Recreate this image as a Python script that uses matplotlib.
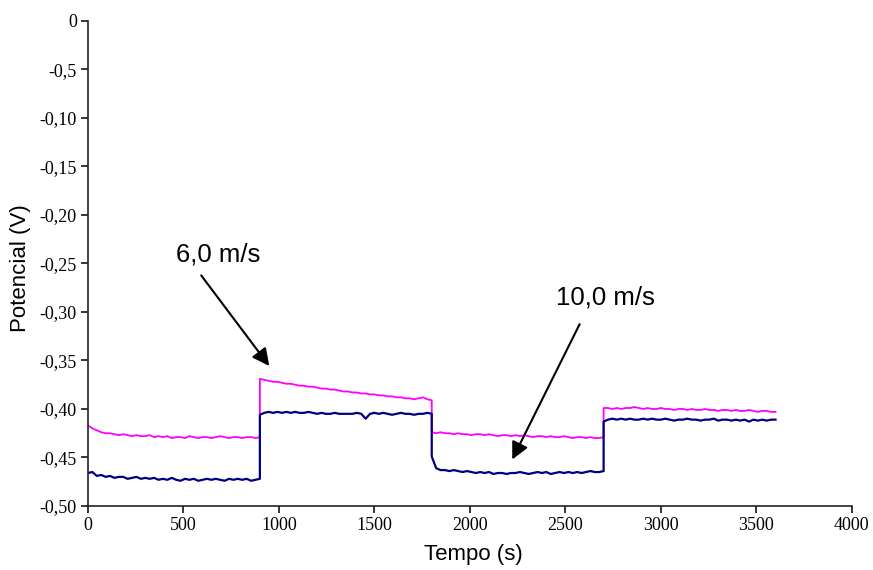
import numpy as np
import matplotlib.pyplot as plt

# limites dos patamares de velocidade (s)
seg_edges = [0, 900, 1800, 2700, 3600]

# potencial (V) - curva magenta, um bloco por patamar
pot_rosa = [
    [-0.417, -0.420, -0.422, -0.424, -0.425, -0.425, -0.426, -0.427, -0.426, -0.427,
     -0.428, -0.427, -0.428, -0.428, -0.427, -0.429, -0.428, -0.429, -0.428, -0.430,
     -0.429, -0.429, -0.430, -0.428, -0.429, -0.430, -0.429, -0.429, -0.430, -0.429,
     -0.428, -0.429, -0.430, -0.429, -0.429, -0.430, -0.429, -0.429, -0.430, -0.429],
    [-0.369, -0.370, -0.371, -0.372, -0.372, -0.373, -0.374, -0.374, -0.375, -0.376,
     -0.376, -0.377, -0.377, -0.378, -0.379, -0.379, -0.380, -0.380, -0.381, -0.382,
     -0.382, -0.383, -0.383, -0.384, -0.384, -0.385, -0.385, -0.386, -0.386, -0.387,
     -0.387, -0.388, -0.388, -0.389, -0.389, -0.390, -0.389, -0.388, -0.390, -0.391],
    [-0.424, -0.425, -0.424, -0.425, -0.425, -0.426, -0.425, -0.426, -0.426, -0.427,
     -0.426, -0.426, -0.427, -0.426, -0.427, -0.428, -0.427, -0.427, -0.428, -0.427,
     -0.428, -0.427, -0.428, -0.429, -0.428, -0.428, -0.429, -0.428, -0.429, -0.429,
     -0.428, -0.429, -0.430, -0.429, -0.429, -0.430, -0.429, -0.430, -0.430, -0.429],
    [-0.399, -0.399, -0.400, -0.399, -0.400, -0.399, -0.399, -0.398, -0.399, -0.400,
     -0.399, -0.400, -0.400, -0.399, -0.400, -0.400, -0.401, -0.400, -0.400, -0.401,
     -0.400, -0.401, -0.401, -0.400, -0.401, -0.401, -0.402, -0.401, -0.401, -0.402,
     -0.401, -0.402, -0.402, -0.401, -0.402, -0.403, -0.402, -0.402, -0.403, -0.403],
]

# potencial (V) - curva azul marinho
pot_azul = [
    [-0.466, -0.465, -0.469, -0.468, -0.470, -0.469, -0.471, -0.470, -0.470, -0.472,
     -0.471, -0.470, -0.472, -0.471, -0.472, -0.471, -0.473, -0.472, -0.473, -0.471,
     -0.473, -0.474, -0.472, -0.473, -0.472, -0.474, -0.473, -0.472, -0.473, -0.472,
     -0.473, -0.474, -0.472, -0.473, -0.472, -0.473, -0.472, -0.474, -0.473, -0.472],
    [-0.406, -0.404, -0.403, -0.404, -0.403, -0.404, -0.403, -0.404, -0.403, -0.404,
     -0.404, -0.403, -0.404, -0.405, -0.404, -0.405, -0.405, -0.404, -0.405, -0.405,
     -0.405, -0.405, -0.404, -0.405, -0.410, -0.405, -0.404, -0.405, -0.404, -0.405,
     -0.406, -0.405, -0.404, -0.405, -0.405, -0.406, -0.405, -0.405, -0.404, -0.405],
    [-0.449, -0.461, -0.463, -0.463, -0.464, -0.463, -0.464, -0.465, -0.464, -0.465,
     -0.466, -0.465, -0.466, -0.465, -0.467, -0.466, -0.466, -0.467, -0.466, -0.466,
     -0.465, -0.466, -0.467, -0.466, -0.465, -0.466, -0.465, -0.467, -0.466, -0.465,
     -0.466, -0.465, -0.466, -0.465, -0.466, -0.465, -0.464, -0.465, -0.465, -0.464],
    [-0.413, -0.411, -0.410, -0.411, -0.410, -0.411, -0.410, -0.411, -0.411, -0.410,
     -0.411, -0.410, -0.411, -0.411, -0.410, -0.411, -0.412, -0.411, -0.411, -0.410,
     -0.411, -0.411, -0.412, -0.411, -0.411, -0.410, -0.412, -0.411, -0.411, -0.412,
     -0.411, -0.412, -0.411, -0.413, -0.411, -0.412, -0.411, -0.412, -0.411, -0.411],
]

yticks = [0, -0.05, -0.10, -0.15, -0.20, -0.25, -0.30, -0.35, -0.40, -0.45, -0.50]
ytick_labels = ['0', '-0,5', '-0,10', '-0,15', '-0,20', '-0,25', '-0,30',
                '-0,35', '-0,40', '-0,45', '-0,50']
xticks = [0, 500, 1000, 1500, 2000, 2500, 3000, 3500, 4000]


def junta(blocos):
    t, v = [], []
    for i, b in enumerate(blocos):
        t.append(np.linspace(seg_edges[i], seg_edges[i + 1], len(b)))
        v.append(np.array(b))
    return np.concatenate(t), np.concatenate(v)


t_rosa, v_rosa = junta(pot_rosa)
t_azul, v_azul = junta(pot_azul)

fig = plt.figure(figsize=(8.73, 5.70), dpi=100)
ax = fig.add_axes([0.1008, 0.1123, 0.875, 0.851])

ax.plot(t_rosa, v_rosa, color='#FF00FF', lw=1.3)
ax.plot(t_azul, v_azul, color='#000080', lw=1.6)

ax.set_xlim(0, 4000)
ax.set_ylim(-0.50, 0)
ax.set_xticks(xticks)
ax.set_yticks(yticks)
ax.set_yticklabels(ytick_labels)
for lb in ax.get_xticklabels() + ax.get_yticklabels():
    lb.set_family('Liberation Serif')
    lb.set_fontsize(13)

for s in ['top', 'right']:
    ax.spines[s].set_visible(False)
for s in ['left', 'bottom']:
    ax.spines[s].set_linewidth(1.2)
    ax.spines[s].set_color('#222222')
ax.tick_params(direction='out', length=5, width=1.1, pad=3)

ax.set_xlabel('Tempo (s)', family='Liberation Sans', fontsize=16)
ax.set_ylabel('Potencial (V)', family='Liberation Sans', fontsize=16)
ax.xaxis.set_label_coords(0.505, -0.078)
ax.yaxis.set_label_coords(-0.074, 0.49)

# setas indicando as velocidades
ax.text(681, -0.241, '6,0 m/s', family='Liberation Sans', fontsize=18.5,
        ha='center', va='center')
ax.annotate('', xy=(958, -0.358), xytext=(584, -0.260),
            arrowprops=dict(arrowstyle='-|>', mutation_scale=26, lw=1.5, color='black'))
ax.text(2707, -0.2856, '10,0 m/s', family='Liberation Sans', fontsize=18.5,
        ha='center', va='center')
ax.annotate('', xy=(2215, -0.4546), xytext=(2581, -0.310),
            arrowprops=dict(arrowstyle='-|>', mutation_scale=26, lw=1.5, color='black'))

fig.savefig('out.png', dpi=100)
